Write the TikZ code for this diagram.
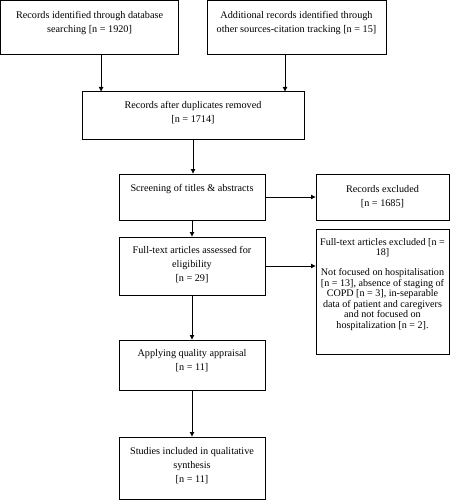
\documentclass[tikz,border=0pt]{standalone}
\usepackage{fontspec}
\setmainfont{Liberation Serif}
\usetikzlibrary{arrows.meta}
\begin{document}
\begin{tikzpicture}[x=1pt,y=-1pt,
  box/.style={draw, line width=1pt, inner sep=0pt, outer sep=0pt, anchor=north west},
  txt/.style={anchor=north, align=center, inner sep=0pt, font=\fontsize{10.2}{14}\selectfont},
  txtsm/.style={anchor=north, align=center, inner sep=0pt, font=\fontsize{10.1}{10.6}\selectfont},
  arr/.style={line width=0.9pt, -{Latex[length=5pt,width=5pt]}}]
\useasboundingbox (0,0) rectangle (450,500);
\node[box, minimum width=178pt, minimum height=54pt] (b1) at (0.6,0.6) {};
\node[box, minimum width=179pt, minimum height=54pt] (b2) at (207,0.6) {};
\node[box, minimum width=222pt, minimum height=47pt] (b3) at (82,92) {};
\node[box, minimum width=146pt, minimum height=46pt] (b4) at (119,174) {};
\node[box, minimum width=133pt, minimum height=46pt] (rex) at (316,174) {};
\node[box, minimum width=146pt, minimum height=58pt] (b5) at (119,237) {};
\node[box, minimum width=133pt, minimum height=125pt] (fex) at (316,229) {};
\node[box, minimum width=146pt, minimum height=50pt] (b6) at (119,340) {};
\node[box, minimum width=146pt, minimum height=62pt] (b7) at (119,437) {};

\node[txt] (t1) at ([yshift=-10.5pt]b1.north) {Records identified through database\\searching [n = 1920]};
\node[txt] (t2) at ([yshift=-10.5pt]b2.north) {Additional records identified through\\other sources-citation tracking [n = 15]};
\node[txt] (t3) at ([yshift=-9pt]b3.north) {Records after duplicates removed\\{}[n = 1714]};
\node[txt] (t4) at ([yshift=-10.5pt]b4.north) {Screening of titles \& abstracts};
\node[txt] (t5) at ([yshift=-11pt]rex.north) {Records excluded\\{}[n = 1685]};
\node[txt] (t6) at ([yshift=-9.5pt]b5.north) {Full-text articles assessed for\\eligibility\\{}[n = 29]};
\node[txtsm] (t7) at ([yshift=-9pt]fex.north) {Full-text articles excluded [n =\\18]\\[9pt]Not focused on hospitalisation\\{}[n = 13], absence of staging of\\COPD [n = 3], in-separable\\data of patient and caregivers\\and not focused on\\hospitalization [n = 2].};
\node[txt] (t8) at ([yshift=-9.5pt]b6.north) {Applying quality appraisal\\{}[n = 11]};
\node[txt] (t9) at ([yshift=-10pt]b7.north) {Studies included in qualitative\\synthesis\\{}[n = 11]};

\draw[arr] ([xshift=11.5pt]b1.south) -- ([xshift=11.5pt]b1.south |- b3.north);
\draw[arr] ([xshift=-11.5pt]b2.south) -- ([xshift=-11.5pt]b2.south |- b3.north);
\draw[arr] (b3.south) -- (b3.south |- b4.north);
\draw[arr] (b4.east) -- (b4.east -| rex.west);
\draw[arr] (b4.south) -- (b5.north);
\draw[arr] (b5.east) -- (b5.east -| fex.west);
\draw[arr] (b5.south) -- (b6.north);
\draw[arr] (b6.south) -- (b7.north);
\end{tikzpicture}
\end{document}
